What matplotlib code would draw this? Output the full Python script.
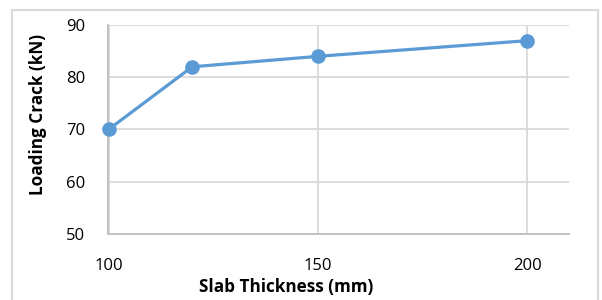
import matplotlib
matplotlib.use("Agg")
import matplotlib.pyplot as plt
from matplotlib.patches import Rectangle

thickness = [100, 120, 150, 200]
load_crack = [70, 82, 84, 87]
x_ticks = [100, 150, 200]
y_ticks = [50, 60, 70, 80, 90]

plt.rcParams['font.family'] = ['Open Sans', 'DejaVu Sans']

W, H = 602, 300
fig = plt.figure(figsize=(W/100, H/100), dpi=100)
fig.patches.append(Rectangle((12/W, -0.1), (598-12)/W, 1 - 10/H + 0.1,
                             transform=fig.transFigure, fill=False,
                             edgecolor='#d9d9d9', linewidth=1.5))
ax = fig.add_axes([108.5/W, 1 - 234/H, (569-108.5)/W, (234-25)/H])

ax.plot(thickness, load_crack, color='#5B9BD5', linewidth=2.3,
        marker='o', markersize=9.5, zorder=3, clip_on=False)

ax.set_xlim(100, 210)
ax.set_ylim(50, 90)
ax.set_xticks(x_ticks)
ax.set_yticks(y_ticks)
ax.grid(True, color='#d9d9d9', linewidth=1.3)
ax.set_axisbelow(True)
for s in ['top', 'right']:
    ax.spines[s].set_visible(False)
for s in ['left', 'bottom']:
    ax.spines[s].set_color('#bfbfbf')
    ax.spines[s].set_linewidth(1.3)
ax.tick_params(axis='both', length=0, labelsize=12, colors='black')
ax.tick_params(axis='x', pad=17)
ax.tick_params(axis='y', pad=17)
ax.set_xlabel('Slab Thickness (mm)', fontsize=12.3, fontweight='bold')
ax.set_ylabel('Loading Crack (kN)', fontsize=12.3, fontweight='bold')
ax.xaxis.label.set_va('center')
ax.yaxis.label.set_va('center')
ax.xaxis.set_label_coords(0.385, -0.254)
ax.yaxis.set_label_coords(-0.153, 0.574)

fig.savefig('out.png', dpi=100)
